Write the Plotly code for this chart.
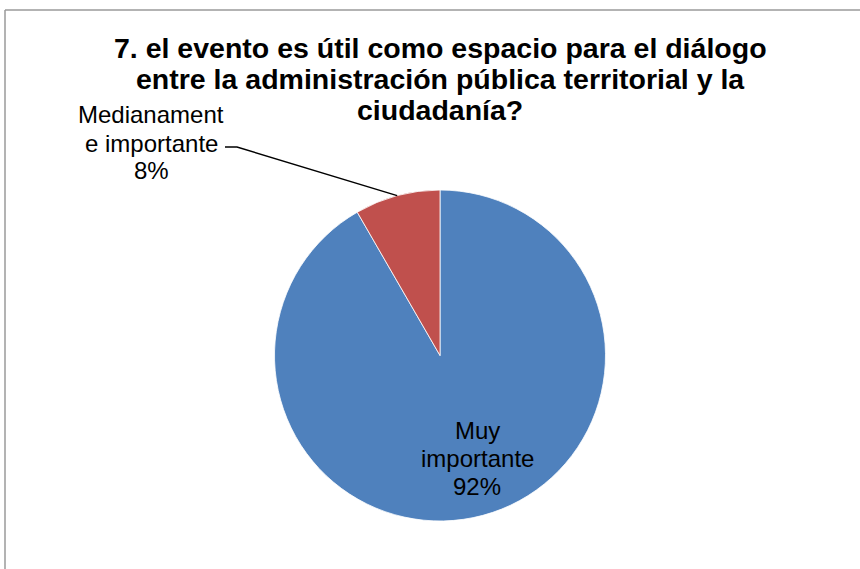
import math
import plotly.graph_objects as go

categories = ["Muy importante", "Medianamente importante"]
values = [11, 1]
label_lines = [["Muy", "importante"], ["Medianament", "e importante"]]
colors = ["#4F81BD", "#C0504D"]
title_lines = [
    "7. el evento es útil como espacio para el diálogo",
    "entre la administración pública territorial y la",
    "ciudadanía?",
]

W, H = 860, 569
OFF = 0  # body margin removed below
FONT = "Liberation Sans, Arial, sans-serif"


def px(x, y):
    """screen pixel -> paper coords"""
    return (x - OFF) / W, 1 - (y - OFF) / H


cx, cy, r = 440, 355.5, 165.5  # pie geometry on screen

x0, y1 = px(cx - r, cy - r)
x1, y0 = px(cx + r, cy + r)

total = sum(values)
pcts = [v / total for v in values]

fig = go.Figure()
fig.add_trace(go.Pie(
    labels=categories,
    values=values,
    sort=False,
    direction="clockwise",
    rotation=0,
    marker=dict(colors=colors, line=dict(color="white", width=0.8)),
    textinfo="none",
    domain=dict(x=[x0, x1], y=[y0, y1]),
    showlegend=False,
    hoverinfo="label+percent",
))

annotations = []
# title lines
for i, line in enumerate(title_lines):
    ax_, ay_ = px(440, 48 + 31 * i)
    annotations.append(dict(x=ax_, y=ay_, xref="paper", yref="paper", text=f"<b>{line}</b>",
                            showarrow=False, xanchor="center", yanchor="middle",
                            font=dict(family=FONT, size=28.5, color="black")))

LH = 28
# inside label of big slice
big = label_lines[0] + [f"{pcts[0]:.0%}"]
for i, line in enumerate(big):
    ax_, ay_ = px(477, 430 + LH * i)
    annotations.append(dict(x=ax_, y=ay_, xref="paper", yref="paper", text=line,
                            showarrow=False, xanchor="center", yanchor="middle",
                            font=dict(family=FONT, size=24, color="black")))

# outside label of small slice
small = label_lines[1] + [f"{pcts[1]:.0%}"]
for i, line in enumerate(small):
    ax_, ay_ = px(151, 115 + LH * i)
    annotations.append(dict(x=ax_, y=ay_, xref="paper", yref="paper", text=line,
                            showarrow=False, xanchor="center", yanchor="middle",
                            font=dict(family=FONT, size=24, color="black")))

# leader line tip at mid-arc of the small slice
mid_frac = 1 - pcts[1] / 2
ang = 2 * math.pi * mid_frac
tip_x = cx + r * math.sin(ang)
tip_y = cy - r * math.cos(ang)
pts = [px(225, 147), px(237, 147), px(tip_x, tip_y)]
path = "M " + " L ".join(f"{a},{b}" for a, b in pts)

bx, by = px(5, 10)
shapes = [
    dict(type="path", xref="paper", yref="paper", path=path, line=dict(color="black", width=1.5)),
    dict(type="line", xref="paper", yref="paper", x0=bx, x1=1, y0=by, y1=by,
         line=dict(color="#9a9a9a", width=1.5)),
    dict(type="line", xref="paper", yref="paper", x0=bx, x1=bx, y0=0, y1=by,
         line=dict(color="#9a9a9a", width=1.5)),
]

fig.update_layout(
    width=W, height=H,
    margin=dict(l=0, r=0, t=0, b=0),
    paper_bgcolor="white",
    annotations=annotations,
    shapes=shapes,
)

fig.write_html("out.html", config={"displayModeBar": False},
               post_script="document.body.style.margin='0px';")
